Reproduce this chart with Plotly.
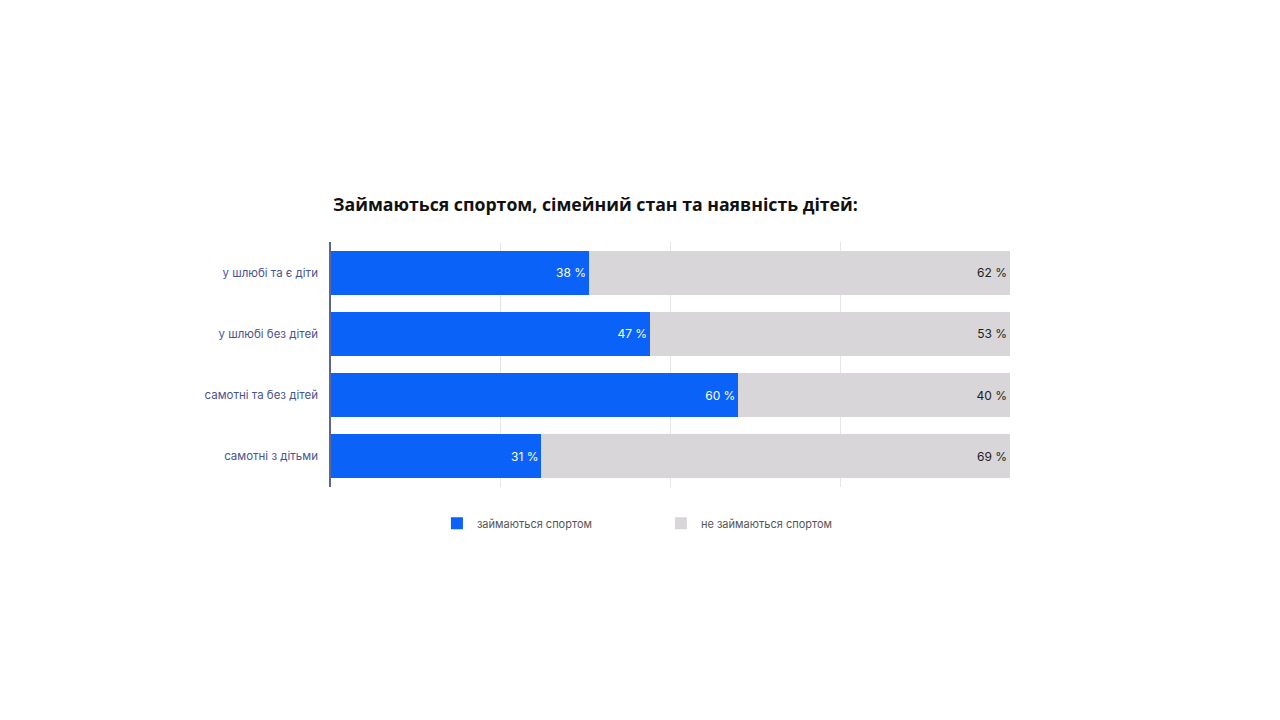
import plotly.graph_objects as go

categories = ["у шлюбі та є діти", "у шлюбі без дітей", "самотні та без дітей", "самотні з дітьми"]
sport = [38, 47, 60, 31]
no_sport = [62, 53, 40, 69]
series_names = ["займаються спортом", "не займаються спортом"]
title = "Займаються спортом, сімейний стан та наявність дітей:"

font_family = "Inter, 'Open Sans', sans-serif"

fig = go.Figure()
fig.add_trace(go.Bar(
    y=categories, x=sport, orientation="h", name=series_names[0],
    marker=dict(color="#0a62f8", line=dict(width=0)),
    text=[f"{v} %" for v in sport], textposition="inside", insidetextanchor="end",
    textfont=dict(color="white", size=12, family=font_family),
    hoverinfo="skip",
))
fig.add_trace(go.Bar(
    y=categories, x=no_sport, orientation="h", name=series_names[1],
    marker=dict(color="#d8d6d8", line=dict(width=0)),
    text=[f"{v} %" for v in no_sport], textposition="inside", insidetextanchor="end",
    textfont=dict(color="#222222", size=12, family=font_family),
    hoverinfo="skip",
))

fig.update_layout(
    barmode="stack",
    bargap=0.28,
    width=1280, height=720,
    paper_bgcolor="white", plot_bgcolor="white",
    margin=dict(l=323, r=278, t=234, b=241),
    font=dict(family=font_family, color="#333"),
    showlegend=True,
    legend=dict(
        orientation="h", x=0.156, y=-0.148, xanchor="left", yanchor="middle",
        font=dict(size=11, color="#555555", family=font_family),
        traceorder="normal", entrywidth=179, entrywidthmode="pixels",
        itemclick=False,
    ),
    annotations=[dict(
        text=f"<b>{title}</b>", xref="paper", yref="paper", x=0.0, y=1.155,
        xanchor="left", yanchor="middle", showarrow=False,
        font=dict(size=17.7, color="#111111", family="'Open Sans', sans-serif"),
    )],
    uniformtext=dict(mode="show", minsize=10),
)
fig.update_xaxes(
    range=[0, 100], tickvals=[0, 25, 50, 75, 100], showticklabels=False,
    showgrid=True, gridcolor="#e6e6e6", gridwidth=1, zeroline=False,
    fixedrange=True,
)
fig.update_yaxes(
    categoryorder="array", categoryarray=categories[::-1],
    showline=True, linecolor="#5c6690", linewidth=1.5,
    tickfont=dict(size=11.5, color="#4a5590", family=font_family),
    ticks="", ticklabelstandoff=9, showgrid=False, fixedrange=True,
)

fig.write_html("out.html")
